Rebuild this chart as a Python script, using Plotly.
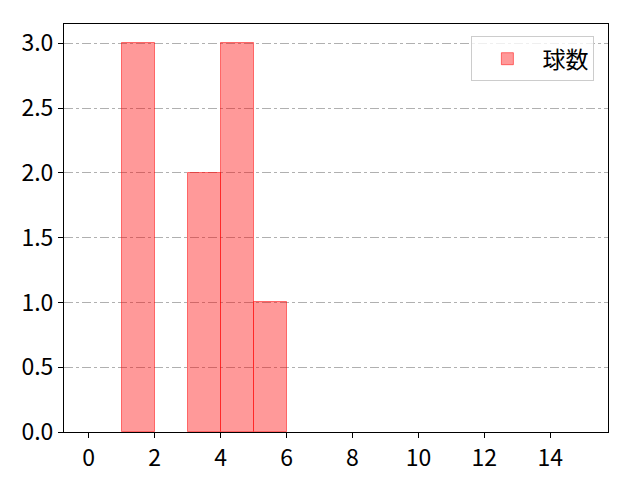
import plotly.graph_objects as go

# 投球数ヒストグラム (bin幅1, 0〜15)
bin_edges = list(range(0, 16))
counts = [0, 3, 0, 2, 3, 1, 0, 0, 0, 0, 0, 0, 0, 0, 0]
x_ticks = [0, 2, 4, 6, 8, 10, 12, 14]
y_ticks = [0.0, 0.5, 1.0, 1.5, 2.0, 2.5, 3.0]

centers = [(bin_edges[i] + bin_edges[i + 1]) / 2 for i in range(len(counts))]
# 0件のビンは描かない (枠線が軸に重なるため)
heights = [c if c > 0 else None for c in counts]

fig = go.Figure()
fig.add_trace(go.Bar(
    x=centers, y=heights, width=1, name='球数',
    marker=dict(color='rgba(255,0,0,0.4)',
                line=dict(color='rgba(255,0,0,0.5)', width=1)),
    showlegend=True,
))

tick_font = dict(family='Noto Sans CJK JP', size=23, color='black')

# ページ本体の余白(8px)ぶんを差し引いてサイズを決める
fig.update_layout(
    width=632, height=472,
    paper_bgcolor='white', plot_bgcolor='white',
    margin=dict(l=56, r=32, t=16, b=48, pad=0),
    font=tick_font,
    bargap=0,
    showlegend=True,
    legend=dict(x=0.975, y=0.97, xanchor='right', yanchor='top',
                bgcolor='rgba(255,255,255,0.8)', bordercolor='#cccccc', borderwidth=1,
                itemwidth=60,
                font=dict(family='Noto Sans CJK JP', size=23, color='black')),
)
fig.update_xaxes(
    range=[-0.75, 15.75], tickvals=x_ticks, showgrid=False, zeroline=False,
    showline=True, linecolor='black', linewidth=1, mirror=True,
    ticks='outside', ticklen=5, tickcolor='black', automargin=False,
    tickfont=tick_font,
)
fig.update_yaxes(
    range=[0, 3.15], tickvals=y_ticks, tickformat='.1f',
    showgrid=True, gridcolor='#b0b0b0', griddash='dashdot', gridwidth=1,
    zeroline=False,
    showline=True, linecolor='black', linewidth=1, mirror=True,
    ticks='outside', ticklen=5, tickcolor='black', automargin=False,
    tickfont=tick_font,
)

fig.write_html("out.html")
